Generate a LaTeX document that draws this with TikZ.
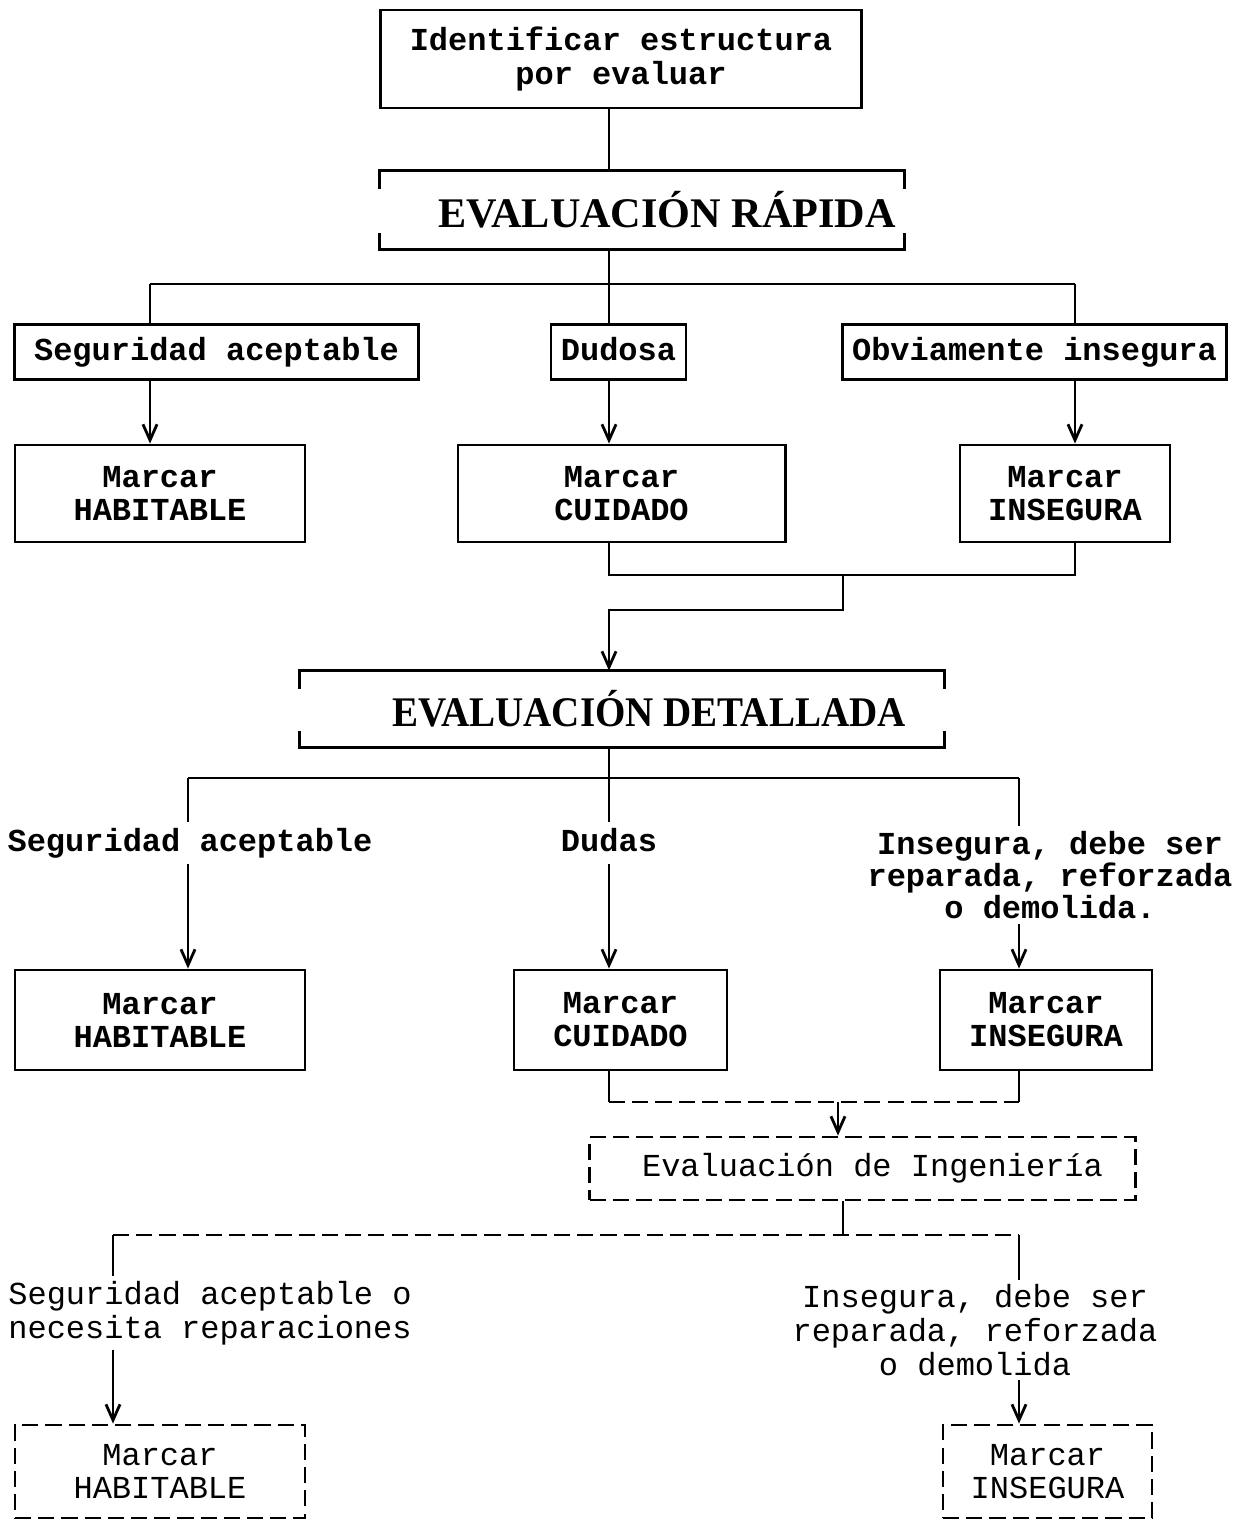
\documentclass[tikz,border=0pt]{standalone}
\usepackage{fontspec}
\setmainfont{Liberation Serif}
\newfontfamily\maquina{Liberation Mono}
\usetikzlibrary{arrows.meta}

\begin{document}
\begin{tikzpicture}[x=0.01cm,y=-0.01cm,line width=0.8pt,
  caja/.style={draw,inner sep=0pt,align=center,font=\maquina\bfseries\fontsize{9.1}{9.4}\selectfont},
  cajap/.style={caja,punteada,font=\maquina\fontsize{9.1}{9.4}\selectfont},
  titulo/.style={inner sep=0pt,font=\bfseries\fontsize{12}{14}\selectfont},
  rotulo/.style={inner sep=1pt,align=center,font=\maquina\bfseries\fontsize{9.1}{9.2}\selectfont},
  rotulop/.style={rotulo,font=\maquina\fontsize{9.1}{9.6}\selectfont},
  linea/.style={text height=1.55ex,text depth=0.45ex},
  punteada/.style={dash pattern=on 4.6pt off 2pt},
  flecha/.style={-{Straight Barb[length=4.5pt,width=4pt]}}]
\useasboundingbox (0,0) rectangle (1246,1521);

\node[caja,minimum width=4.8cm,minimum height=0.98cm] (ide) at (621,59) {Identificar estructura\\por evaluar};
\node[titulo,minimum width=5.22cm,minimum height=0.76cm] (rap) at (642,210) {\hspace*{0.5cm}EVALUACIÓN RÁPIDA};
\node[caja,linea,minimum width=4.03cm,minimum height=0.55cm] (seg1) at (216.5,352) {Seguridad aceptable};
\node[caja,linea,minimum width=1.35cm,minimum height=0.55cm] (dud1) at (618.5,352) {Dudosa};
\node[caja,linea,minimum width=3.83cm,minimum height=0.55cm] (obv1) at (1034.5,352) {Obviamente insegura};
\node[caja,minimum width=2.9cm,minimum height=0.97cm] (hab1) at (160,493.5) {Marcar\\HABITABLE};
\node[caja,minimum width=3.27cm,minimum height=0.97cm] (cui1) at (621.5,493.5) {Marcar\\CUIDADO};
\node[caja,minimum width=2.1cm,minimum height=0.97cm] (ins1) at (1065,493.5) {Marcar\\INSEGURA};
\node[titulo,minimum width=6.42cm,minimum height=0.74cm] (det) at (622,709) {\hspace*{0.54cm}\scalebox{0.925}[1]{EVALUACIÓN DETALLADA}};
\node[rotulo,linea] (seg2) at (190,843) {Seguridad aceptable};
\node[rotulo,linea] (dud2) at (609,843) {Dudas};
\node[rotulo] (ins2) at (1050,875) {Insegura, debe ser\\reparada, reforzada\\o demolida.};
\node[caja,minimum width=2.9cm,minimum height=1cm] (hab2) at (160,1020) {Marcar\\HABITABLE};
\node[caja,minimum width=2.13cm,minimum height=1cm] (cui2) at (620.5,1020) {Marcar\\CUIDADO};
\node[caja,minimum width=2.12cm,minimum height=1cm] (ins3) at (1046,1020) {Marcar\\INSEGURA};
\node[cajap,minimum width=5.45cm,minimum height=0.63cm] (ing) at (862.5,1168.5) {\hspace*{0.2cm}Evaluación de Ingeniería};
\node[rotulop] (seg3) at (210,1313) {Seguridad aceptable o\\necesita reparaciones};
\node[rotulop] (ins4) at (975,1330) {Insegura, debe ser\\reparada, reforzada\\o demolida};
\node[cajap,minimum width=2.9cm,minimum height=0.93cm] (hab3) at (160,1471.5) {Marcar\\HABITABLE};
\node[cajap,minimum width=2.09cm,minimum height=0.93cm] (ins5) at (1047.5,1471.5) {Marcar\\INSEGURA};

\draw (rap.north west) ++(0,18) |- (rap.north east) -- ++(0,18);
\draw (rap.south west) ++(0,-16) |- (rap.south east) -- ++(0,-16);
\draw (det.north west) ++(0,18) |- (det.north east) -- ++(0,18);
\draw (det.south west) ++(0,-16) |- (det.south east) -- ++(0,-16);

\coordinate (c1) at (150,284);
\coordinate (c2) at (609,284);
\coordinate (c3) at (1075,284);
\draw (ide.south -| c2) -- (rap.north -| c2);
\draw (rap.south -| c2) -- (c2);
\draw (c1) -- (c3);
\draw (c1) -- (seg1.north -| c1);
\draw (c2) -- (dud1.north -| c2);
\draw (c3) -- (obv1.north -| c3);
\draw[flecha] (seg1.south -| c1) -- (hab1.north -| c1);
\draw[flecha] (dud1.south -| c2) -- (cui1.north -| c2);
\draw[flecha] (obv1.south -| c3) -- (ins1.north -| c3);

\coordinate (d1) at (609,575);
\coordinate (d2) at (1075,575);
\coordinate (d3) at (843,575);
\coordinate (d4) at (609,610);
\draw (cui1.south -| d1) -- (d1) -- (d2) -- (ins1.south -| d2);
\draw[flecha] (d3) |- (d4) -- (det.north -| d4);

\coordinate (e1) at (188,778);
\coordinate (e2) at (609,778);
\coordinate (e3) at (1019,778);
\draw (det.south -| e2) -- (e2);
\draw (e1) -- (e3);
\draw (e1) -- (seg2.north -| e1);
\draw (e2) -- (dud2.north -| e2);
\draw (e3) -- (ins2.north -| e3);
\draw[flecha] (seg2.south -| e1) -- (hab2.north -| e1);
\draw[flecha] (dud2.south -| e2) -- (cui2.north -| e2);
\draw[flecha] (ins2.south -| e3) -- (ins3.north -| e3);

\coordinate (f1) at (609,1102);
\coordinate (f2) at (1019,1102);
\coordinate (f3) at (838,1102);
\draw (cui2.south -| f1) -- (f1);
\draw (f2) -- (ins3.south -| f2);
\draw[punteada] (f1) -- (f2);
\draw[flecha] (f3) -- (ing.north -| f3);

\coordinate (g1) at (113,1235);
\coordinate (g2) at (843,1235);
\coordinate (g3) at (1019,1235);
\draw (ing.south -| g2) -- (g2);
\draw[punteada] (g1) -- (g3);
\draw (g1) -- (seg3.north -| g1);
\draw (g3) -- (ins4.north -| g3);
\draw[flecha] (seg3.south -| g1) -- (hab3.north -| g1);
\draw[flecha] (ins4.south -| g3) -- (ins5.north -| g3);
\end{tikzpicture}
\end{document}
